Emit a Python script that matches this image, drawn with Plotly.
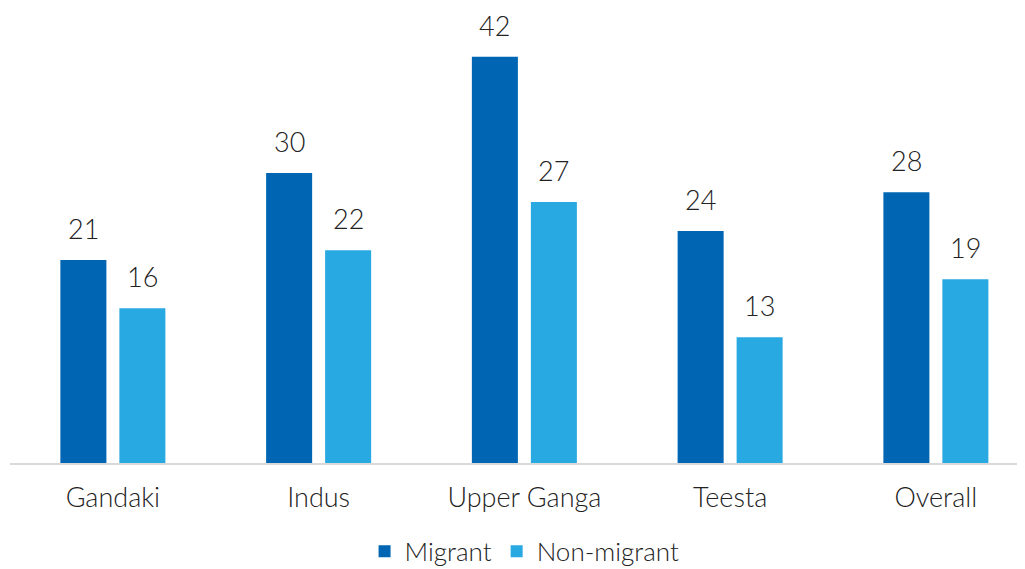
import plotly.graph_objects as go

categories = ["Gandaki", "Indus", "Upper Ganga", "Teesta", "Overall"]
migrant = [21, 30, 42, 24, 28]
non_migrant = [16, 22, 27, 13, 19]
series_names = ["Migrant", "Non-migrant"]
colors = ["#0066b3", "#29a9e1"]

FONT = "Lato Light, Lato"
fig = go.Figure()
for name, vals, col in zip(series_names, [migrant, non_migrant], colors):
    fig.add_trace(go.Bar(x=categories, y=vals, name=name, marker_color=col,
                         marker_line_width=0, hoverinfo="x+y"))

# value labels above bars
ann = []
for vals, shift in [(migrant, -29.5), (non_migrant, 29.5)]:
    for c, v in zip(categories, vals):
        ann.append(dict(x=c, y=v, xref="x", yref="y", text=str(v), showarrow=False,
                        xshift=shift, yshift=13, yanchor="bottom",
                        font=dict(family=FONT, size=27, color="#222222", weight=300)))

fig.update_layout(
    width=1025, height=569,
    margin=dict(l=2, r=0, t=0, b=114, autoexpand=False),
    paper_bgcolor="white", plot_bgcolor="white",
    barmode="group", bargap=0.4265, bargroupgap=0.22,
    font=dict(family=FONT, size=27, color="#222222", weight=300),
    showlegend=True,
    legend=dict(orientation="h", x=0.503, xanchor="center", y=-0.194, yanchor="middle",
                font=dict(family=FONT, size=26, color="#222222", weight=300),
                itemwidth=30, tracegroupgap=0),
    annotations=ann,
)
fig.update_xaxes(type="category", range=[-0.5, 4.472], showline=True, linecolor="#d9d9d9",
                 linewidth=2, ticks="", showgrid=False, zeroline=False, ticklabelstandoff=10,
                 automargin=False)
fig.update_yaxes(range=[0, 455 / 9.67], visible=False, showgrid=False, zeroline=False,
                 automargin=False)

fig.write_html("out.html")
